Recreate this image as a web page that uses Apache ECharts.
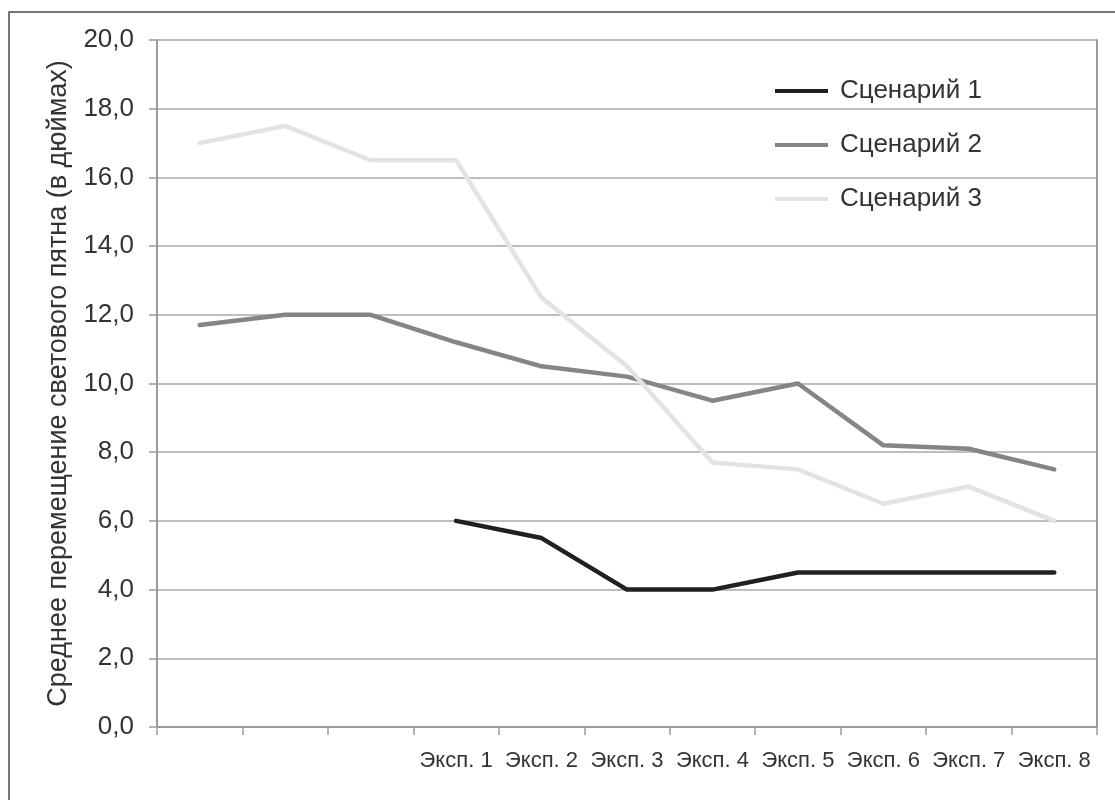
<!DOCTYPE html>
<html>
<head>
<meta charset="utf-8">
<script src="https://cdn.jsdelivr.net/npm/echarts@6/dist/echarts.min.js"></script>
<style>
  html, body { margin: 0; padding: 0; background: #fff; }
  #chart { width: 1115px; height: 800px; }
</style>
</head>
<body>
<div id="chart"></div>
<script>
// Categories: three unlabeled warm-up slots, then experiments 1..8
const categories = ['', '', '', 'Эксп. 1', 'Эксп. 2', 'Эксп. 3', 'Эксп. 4', 'Эксп. 5', 'Эксп. 6', 'Эксп. 7', 'Эксп. 8'];

const seriesNames = ['Сценарий 1', 'Сценарий 2', 'Сценарий 3'];

// Mean light-spot displacement, inches
const scenario1 = [null, null, null, 6.0, 5.5, 4.0, 4.0, 4.5, 4.5, 4.5, 4.5];
const scenario2 = [11.7, 12.0, 12.0, 11.2, 10.5, 10.2, 9.5, 10.0, 8.2, 8.1, 7.5];
const scenario3 = [17.0, 17.5, 16.5, 16.5, 12.5, 10.5, 7.7, 7.5, 6.5, 7.0, 6.0];

const yTicks = { min: 0, max: 20, step: 2 };
const yTitle = 'Среднее перемещение светового пятна (в дюймах)';

const lineColors = ['#231f20', '#858585', '#e3e3e3'];
const textColor = '#333333';
const gridColor = '#a9a9a9';
const axisColor = '#9a9a9a';
const baseFont = 'Liberation Sans, Arial, sans-serif';

const chart = echarts.init(document.getElementById('chart'), null, { renderer: 'canvas' });

function lineSeries(name, data, color) {
  return {
    name: name,
    type: 'line',
    data: data,
    showSymbol: false,
    symbol: 'none',
    connectNulls: false,
    lineStyle: { color: color, width: 4.5, cap: 'round', join: 'round' },
    itemStyle: { color: color },
    emphasis: { disabled: true },
    animation: false
  };
}

chart.setOption({
  animation: false,
  backgroundColor: '#ffffff',
  textStyle: { fontFamily: baseFont },
  graphic: [{
    type: 'rect',
    shape: { x: 9, y: 12, width: 1200, height: 900 },
    style: { fill: 'none', stroke: '#4a4a4a', lineWidth: 1.5 },
    silent: true
  }],
  grid: { left: 157, right: 18, top: 40, bottom: 73, containLabel: false },
  legend: {
    orient: 'vertical',
    left: 770,
    top: 73,
    itemGap: 28,
    itemWidth: 53,
    itemHeight: 4,
    icon: 'rect',
    data: seriesNames,
    textStyle: { color: textColor, fontSize: 26, fontFamily: baseFont, padding: [0, 0, 0, 7] },
    selectedMode: false
  },
  xAxis: {
    type: 'category',
    data: categories,
    boundaryGap: true,
    axisLine: { show: true, lineStyle: { color: axisColor, width: 2 } },
    axisTick: { show: true, interval: 0, length: 8, lineStyle: { color: axisColor, width: 1.5 } },
    axisLabel: {
      interval: 0,
      margin: 23,
      color: textColor,
      fontSize: 22,
      fontFamily: 'Liberation Sans Narrow, Arial Narrow, Liberation Sans, sans-serif'
    },
    splitLine: { show: false }
  },
  yAxis: [{
    type: 'value',
    min: yTicks.min,
    max: yTicks.max,
    interval: yTicks.step,
    name: yTitle,
    nameLocation: 'middle',
    nameRotate: 90,
    nameGap: 82,
    nameTextStyle: { color: textColor, fontSize: 27, fontFamily: baseFont },
    axisLine: { show: true, lineStyle: { color: axisColor, width: 2 } },
    axisTick: { show: true, length: 8, lineStyle: { color: axisColor, width: 1.5 } },
    axisLabel: {
      margin: 23,
      color: textColor,
      fontSize: 26,
      fontFamily: baseFont,
      formatter: v => v.toFixed(1).replace('.', ',')
    },
    splitLine: { show: true, lineStyle: { color: gridColor, width: 1.5 } }
  }, {
    type: 'value',
    position: 'right',
    min: yTicks.min,
    max: yTicks.max,
    interval: yTicks.step,
    axisLine: { show: true, lineStyle: { color: axisColor, width: 2 } },
    axisTick: { show: false },
    axisLabel: { show: false },
    splitLine: { show: false }
  }],
  series: [
    lineSeries(seriesNames[0], scenario1, lineColors[0]),
    lineSeries(seriesNames[1], scenario2, lineColors[1]),
    lineSeries(seriesNames[2], scenario3, lineColors[2])
  ]
});
</script>
</body>
</html>
